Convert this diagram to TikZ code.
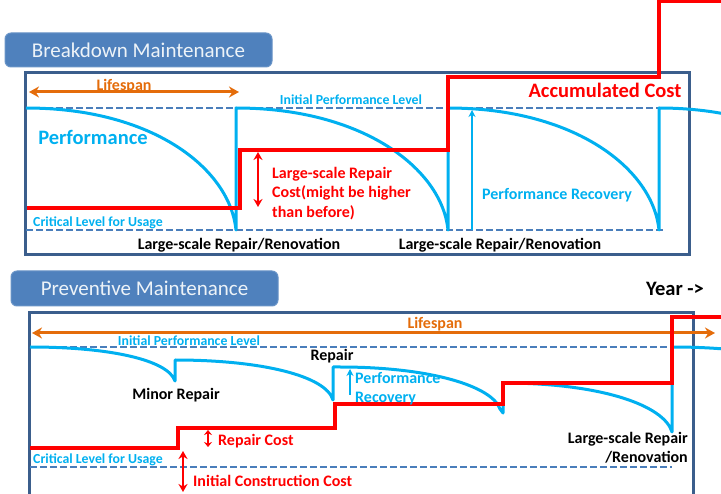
\documentclass[tikz,border=0pt]{standalone}
\usepackage{fontspec}
\setmainfont{Carlito}
\usetikzlibrary{arrows.meta}

\definecolor{titlefill}{HTML}{4F81BD}
\definecolor{framecol}{HTML}{3B5E8C}
\definecolor{dashcol}{HTML}{4A7EBB}
\definecolor{perfcol}{HTML}{00B0F0}
\definecolor{costcol}{HTML}{FF0000}
\definecolor{spancol}{HTML}{E46C0A}

\tikzset{
  titlebox/.style={fill=titlefill, draw=titlefill!85!white, line width=1pt,
    rounded corners=6pt, text=white!90!titlefill, inner sep=0pt,
    font=\fontsize{21}{25}\selectfont},
  panel/.style={draw=framecol, line width=3pt, inner sep=0pt},
  level/.style={draw=dashcol, line width=1.8pt, dash pattern=on 7pt off 3pt},
  perf/.style={draw=perfcol, line width=3pt, line join=round},
  perfarrow/.style={draw=perfcol, line width=2.5pt, -{Stealth[length=7pt,width=7pt]}},
  cost/.style={draw=costcol, line width=4pt, line join=miter},
  costarrow/.style={draw=costcol, line width=2.5pt,
    {Stealth[length=8pt,width=9pt]}-{Stealth[length=8pt,width=9pt]}},
  smallcostarrow/.style={draw=costcol, line width=2.5pt,
    {Stealth[length=5pt,width=8pt]}-{Stealth[length=5pt,width=8pt]}},
  spanarrow/.style={draw=spancol, line width=3pt,
    {Stealth[length=10pt,width=11pt]}-{Stealth[length=10pt,width=11pt]}},
  lbl/.style={inner sep=0pt, font=\bfseries\fontsize{16}{19.5}\selectfont},
  smalllbl/.style={inner sep=0pt, font=\bfseries\fontsize{13.8}{16}\selectfont},
  biglbl/.style={inner sep=0pt, font=\bfseries\fontsize{20.5}{24}\selectfont},
}

\begin{document}
\begin{tikzpicture}[x=1pt,y=-1pt]
\useasboundingbox (0,0) rectangle (721,494);
\clip (0,0) rectangle (721,494);

% ---------------- Breakdown maintenance ----------------
\node[titlebox, minimum width=267pt, minimum height=34pt] (bdtitle) at (138.5,50) {Breakdown Maintenance};
\node[panel, minimum width=664pt, minimum height=182pt] (bdframe) at (357,164) {};

% performance levels
\coordinate (bdInitL) at (26,108);  \coordinate (bdInitR) at (665,108);
\coordinate (bdCritL) at (26,230);  \coordinate (bdCritR) at (665,230);
\draw[level] (bdInitL) -- (bdInitR);
\draw[level] (bdCritL) -- (bdCritR);

% lifespan
\coordinate (bdSpanL) at (29,92); \coordinate (bdSpanR) at (239,92);
\draw[spanarrow] (bdSpanL) -- (bdSpanR);

% performance curve: decline, then full recovery at each renovation
\draw[perf] (bdInitL) .. controls (153,108) and (230,169) .. (236,230) -- (236,108)
  .. controls (363,108) and (442,169) .. (448,230) -- (448,108)
  .. controls (575,108) and (653,169) .. (659,230) -- (659,108)
  .. controls (786,108) and (865,169) .. (871,230);

% performance recovery arrow
\coordinate (bdRecB) at (472,230); \coordinate (bdRecT) at (472,110);
\draw[perfarrow] (bdRecB) -- (bdRecT);

% accumulated cost
\draw[cost] (27,208) -- (240,208) -- (240,150) -- (448,150) -- (448,77)
  -- (659,77) -- (659,1.5) -- (725,1.5);

% repair cost arrow
\coordinate (bdCostT) at (258,152); \coordinate (bdCostB) at (258,207);
\draw[costarrow] (bdCostT) -- (bdCostB);

% labels
\node[lbl, text=spancol] (bdSpanLbl) at (124,86) {Lifespan};
\node[smalllbl, text=perfcol] (bdInitLbl) at (351,100) {Initial Performance Level};
\node[smalllbl, text=perfcol, anchor=west] (bdCritLbl) at (33,223) {Critical Level for Usage};
\node[biglbl, text=perfcol] (bdPerfLbl) at (93,137) {Performance};
\node[biglbl, text=costcol] (bdAccLbl) at (605,90) {Accumulated Cost};
\node[lbl, text=costcol, anchor=north west, align=left] (bdCostLbl) at (272,167)
  {Large-scale Repair\\Cost(might be higher\\than before)};
\node[lbl, text=perfcol] (bdRecLbl) at (557,195) {Performance Recovery};
\node[lbl] (bdRen1) at (239,245) {Large-scale Repair/Renovation};
\node[lbl] (bdRen2) at (500,245) {Large-scale Repair/Renovation};

% ---------------- Preventive maintenance ----------------
\node[titlebox, minimum width=267pt, minimum height=35pt] (pmtitle) at (144.5,288.5) {Preventive Maintenance};
\node[biglbl] (year) at (675,289) {Year ->};
\node[panel, minimum width=664pt, minimum height=207pt] (pmframe) at (361,416.5) {};

\coordinate (pmInitL) at (30,347);  \coordinate (pmInitR) at (672,347);
\coordinate (pmCritL) at (30,467);  \coordinate (pmCritR) at (672,467);
\draw[level] (pmInitL) -- (pmInitR);
\draw[level] (pmCritL) -- (pmCritR);

\coordinate (pmSpanL) at (32,333); \coordinate (pmSpanR) at (715,333);
\draw[spanarrow] (pmSpanL) -- (pmSpanR);

% performance curve with small periodic repairs
\draw[perf] (pmInitL) .. controls (110,347) and (168,360) .. (175,381) -- (175,360)
  .. controls (262,360) and (326,376) .. (333,400) -- (333,367) -- (340,367)
  .. controls (430,367) and (492,386) .. (500,409) -- (503,413) -- (503,383)
  .. controls (600,383) and (664,405) .. (672,432) -- (672,347)
  .. controls (760,347) and (820,362) .. (830,390);

\coordinate (pmRecB) at (350,395); \coordinate (pmRecT) at (350,369);
\draw[perfarrow] (pmRecB) -- (pmRecT);

% accumulated cost
\draw[cost] (30,448) -- (178,448) -- (178,428) -- (335,428) -- (335,404)
  -- (503,404) -- (503,383) -- (672,383) -- (672,317) -- (725,317);

\coordinate (pmRepT) at (208,430); \coordinate (pmRepB) at (208,447);
\draw[smallcostarrow] (pmRepT) -- (pmRepB);
\coordinate (pmInitCT) at (183,451); \coordinate (pmInitCB) at (183,492);
\draw[costarrow] (pmInitCT) -- (pmInitCB);

% labels
\node[lbl, text=spancol] (pmSpanLbl) at (435,324) {Lifespan};
\node[smalllbl, text=perfcol] (pmInitLbl) at (189,341) {Initial Performance Level};
\node[smalllbl, text=perfcol, anchor=west] (pmCritLbl) at (33,460) {Critical Level for Usage};
\node[lbl] (pmRepLbl) at (332,356) {Repair};
\node[lbl, text=perfcol, anchor=north west, align=left] (pmRecLbl) at (355,372) {Performance\\Recovery};
\node[lbl] (pmMinor) at (176,395) {Minor Repair};
\node[lbl, text=costcol, anchor=west] (pmRepCost) at (218,441) {Repair Cost};
\node[lbl, text=costcol, anchor=west] (pmInitCost) at (193,481) {Initial Construction Cost};
\node[lbl, anchor=north east, align=right] (pmRen) at (688,432) {Large-scale Repair\\/Renovation};
\end{tikzpicture}
\end{document}
